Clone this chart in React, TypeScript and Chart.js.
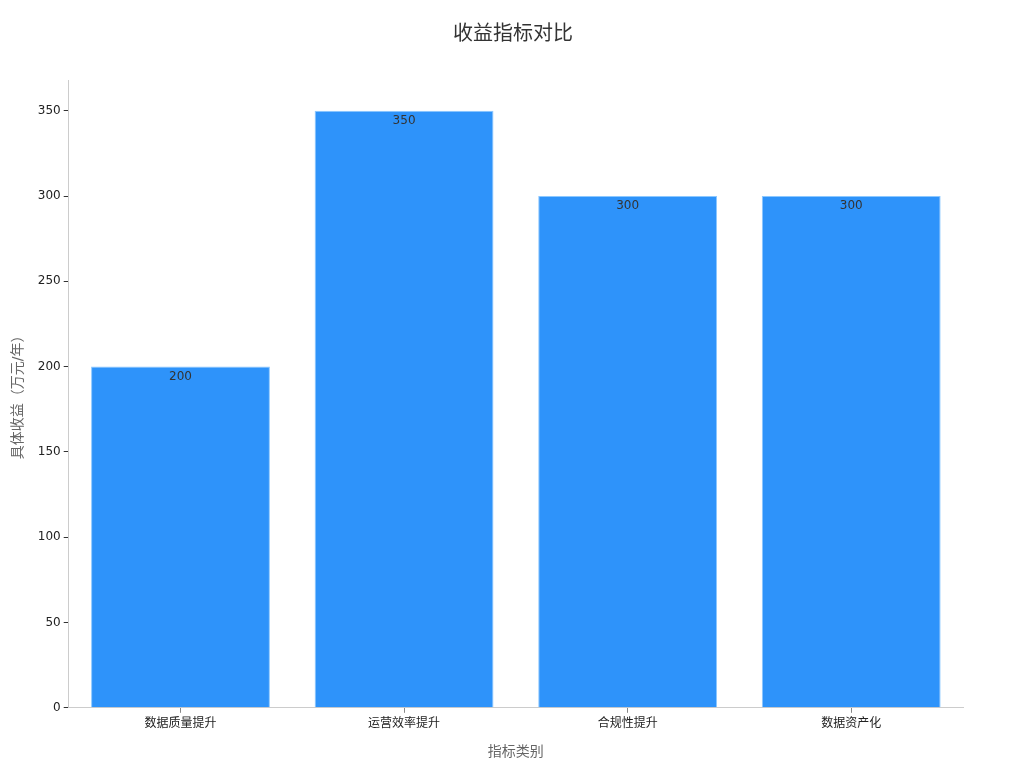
import { useEffect, useRef } from 'react';
import { Chart, registerables } from 'chart.js';
Chart.register(...registerables);

const categories = ['数据质量提升', '运营效率提升', '合规性提升', '数据资产化'];
const revenue = [200, 350, 300, 300];
const yTicks = [0, 50, 100, 150, 200, 250, 300, 350];

const FONT = '"DejaVu Sans", "Noto Sans CJK SC", sans-serif';

const valueLabels = {
  id: 'valueLabels',
  afterDatasetsDraw(chart: any) {
    const { ctx } = chart;
    const meta = chart.getDatasetMeta(0);
    ctx.save();
    ctx.font = `12px ${FONT}`;
    ctx.fillStyle = '#333';
    ctx.textAlign = 'center';
    ctx.textBaseline = 'top';
    meta.data.forEach((bar: any, i: number) => {
      ctx.fillText(String(revenue[i]), bar.x, bar.y + 4);
    });
    ctx.restore();
  },
};

export default function App() {
  const ref = useRef<HTMLCanvasElement | null>(null);
  useEffect(() => {
    document.body.style.margin = '0';
    if (!ref.current) return;
    const ctx = ref.current.getContext('2d');
    if (!ctx) return;
    const chart = new Chart(ctx, {
      type: 'bar',
      data: {
        labels: categories,
        datasets: [{
          data: revenue,
          backgroundColor: '#2E93FA',
          borderColor: '#8cc8ff',
          borderWidth: 1,
          barPercentage: 0.8,
          categoryPercentage: 1.0,
        }],
      },
      options: {
        responsive: false,
        animation: false,
        layout: { padding: { left: 6, right: 4, top: 0, bottom: 3 } },
        plugins: {
          legend: { display: false },
          tooltip: { enabled: false },
          title: {
            display: true,
            text: '收益指标对比',
            color: '#333',
            font: { family: FONT, size: 20, weight: 'normal' },
            padding: { top: 23, bottom: 33 },
          },
        },
        scales: {
          x: {
            offset: true,
            grid: { display: true, offset: false, drawOnChartArea: false, drawTicks: true, tickLength: 5, color: '#888' },
            border: { color: '#ccc' },
            ticks: { color: '#222', font: { family: FONT, size: 12 }, padding: 4 },
            title: {
              display: true,
              text: '指标类别',
              color: '#666',
              font: { family: FONT, size: 14 },
              padding: { top: 9 },
            },
          },
          y: {
            min: 0,
            max: 368,
            afterBuildTicks: (axis: any) => {
              axis.ticks = yTicks.map((v) => ({ value: v }));
            },
            grid: { display: true, drawOnChartArea: false, drawTicks: true, tickLength: 5, color: '#333' },
            border: { color: '#ccc' },
            ticks: { color: '#222', font: { family: FONT, size: 12 }, padding: 3 },
            title: {
              display: true,
              text: '具体收益（万元/年）',
              color: '#666',
              font: { family: FONT, size: 14 },
              padding: { bottom: 8 },
            },
          },
          yRight: {
            position: 'right',
            display: true,
            grid: { display: false },
            border: { display: false },
            ticks: { display: false },
            afterFit: (axis: any) => {
              axis.width = 57;
            },
          },
        },
      },
      plugins: [valueLabels],
    });
    return () => chart.destroy();
  }, []);
  return <canvas ref={ref} width={1024} height={768} style={{ display: 'block', width: 1024, height: 768 }} />;
}
